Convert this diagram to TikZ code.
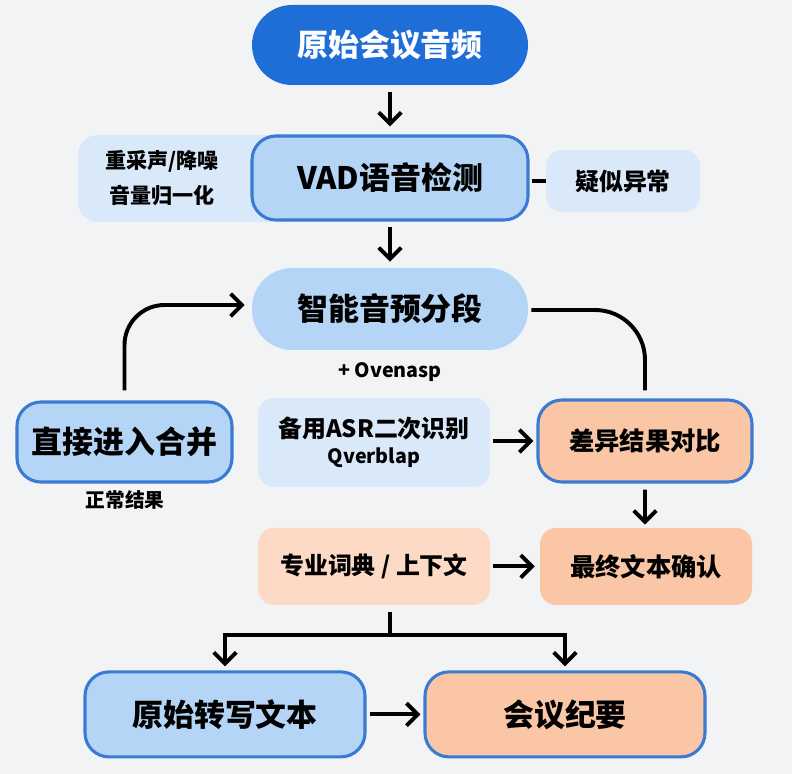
\documentclass[tikz,border=0pt]{standalone}
\usepackage{fontspec}
\setmainfont{Noto Sans CJK SC}[BoldFont={* Black}]
\usetikzlibrary{arrows.meta,positioning}

\definecolor{deepblue}{HTML}{1F6ED8}
\definecolor{edgeblue}{HTML}{3B7AD3}
\definecolor{skyfill}{HTML}{B5D5F7}
\definecolor{paleblue}{HTML}{DAE9FA}
\definecolor{peachfill}{HTML}{FBC6A6}
\definecolor{palepeach}{HTML}{FCDAC5}
\definecolor{bggray}{HTML}{F2F3F5}

\tikzset{
  mainbox/.style={draw=edgeblue,line width=2.2pt,fill=skyfill,rounded corners=0.6cm,
    minimum width=6.9cm,minimum height=2.1cm,font=\bfseries\fontsize{22}{26}\selectfont},
  sidebox/.style={fill=paleblue,rounded corners=0.4cm,font=\bfseries\fontsize{17}{21}\selectfont},
  flow/.style={line width=2.8pt,-{Straight Barb[length=8pt,width=16pt,line width=2.8pt]}},
  plain/.style={line width=2.8pt},
}

\begin{document}
\begin{tikzpicture}
% background
\fill[bggray] (0,0) rectangle (19.8,-19.35);
\useasboundingbox (0,0) rectangle (19.8,-19.35);

% top
\node[fill=deepblue,text=white,rounded corners=1cm,minimum width=6.9cm,minimum height=2cm,
  font=\bfseries\fontsize{22}{26}\selectfont] (audio) at (9.75,-1.125) {原始会议音频};

% preprocessing panel behind the VAD box
\fill[paleblue,rounded corners=0.5cm] (1.95,-3.375) rectangle (7.5,-5.55);
\node[align=center,font=\bfseries\fontsize{15}{25}\selectfont] (prep) at (4.05,-4.45) {重采声/降噪\\音量归一化};

\node[mainbox] (vad) at (9.75,-4.45) {VAD语音检测};
\node[sidebox,minimum width=3.85cm,minimum height=1.55cm] (anomaly) at (15.575,-4.525) {疑似异常};

\node[fill=skyfill,rounded corners=1cm,minimum width=6.9cm,minimum height=2.05cm,
  font=\bfseries\fontsize{22}{26}\selectfont] (segment) at (9.75,-7.725) {智能音预分段};
\node[font=\fontsize{14}{17}\selectfont] (overlap) at (9.75,-9.3) {\textbf{+ Ovenasp}};

% middle row
\node[mainbox,minimum width=5.375cm,minimum height=2cm] (direct) at (3.1125,-11.05) {直接进入合并};
\node[font=\bfseries\fontsize{14}{17}\selectfont] (normal) at (3.125,-12.5) {正常结果};
\node[sidebox,minimum width=5.8cm,minimum height=2.225cm,align=center] (backup) at (9.35,-11.06)
  {备用ASR二次识别\\[-2pt]{\fontsize{14}{17}\selectfont Qverblap}};
\node[mainbox,fill=peachfill,minimum width=5.35cm,minimum height=2.05cm,
  font=\bfseries\fontsize{18}{22}\selectfont] (compare) at (16.125,-11.025) {差异结果对比};

% lower row
\node[sidebox,fill=palepeach,minimum width=5.8cm,minimum height=1.925cm] (dict) at (9.35,-14.16) {专业词典 / 上下文};
\node[sidebox,fill=peachfill,minimum width=5.3cm,minimum height=1.925cm,
  font=\bfseries\fontsize{18}{22}\selectfont] (final) at (16.15,-14.16) {最终文本确认};

% outputs
\node[mainbox,minimum width=7cm,minimum height=2.125cm] (raw) at (5.625,-17.86) {原始转写文本};
\node[mainbox,fill=peachfill,minimum width=7cm,minimum height=2.125cm] (minutes) at (14.125,-17.86) {会议纪要};

% connectors
\draw[flow] ([yshift=-0.175cm]audio.south) -- ([yshift=0.2cm]vad.north);
\draw[plain] ([xshift=0.05cm]vad.east |- anomaly.west) -- (anomaly.west);
\draw[flow] ([yshift=-0.125cm]vad.south) -- ([yshift=0.15cm]segment.north);
\draw[flow,rounded corners=1cm] ([yshift=0.25cm]direct.north) |- ([xshift=-0.175cm,yshift=0.1cm]segment.west);
\draw[plain,rounded corners=1.25cm] ([xshift=0.075cm,yshift=-0.025cm]segment.east) -| ([yshift=0.2cm]compare.north);
\draw[flow] ([xshift=0.075cm]backup.east |- compare.west) -- ([xshift=-0.075cm]compare.west);
\draw[flow] ([yshift=-0.15cm]compare.south) -- ([xshift=-0.025cm,yshift=0.075cm]final.north);
\draw[flow] ([xshift=0.075cm]dict.east) -- ([xshift=-0.125cm]final.west);
\coordinate (split) at (9.75,-15.875);
\draw[plain] ([xshift=0.4cm,yshift=-0.175cm]dict.south) -- (split);
\draw[flow] (split) -| ([yshift=0.1cm]raw.north);
\draw[flow] (split) -| ([yshift=0.1cm]minutes.north);
\draw[flow] ([xshift=0.075cm]raw.east) -- ([xshift=-0.075cm]minutes.west);
\end{tikzpicture}
\end{document}
